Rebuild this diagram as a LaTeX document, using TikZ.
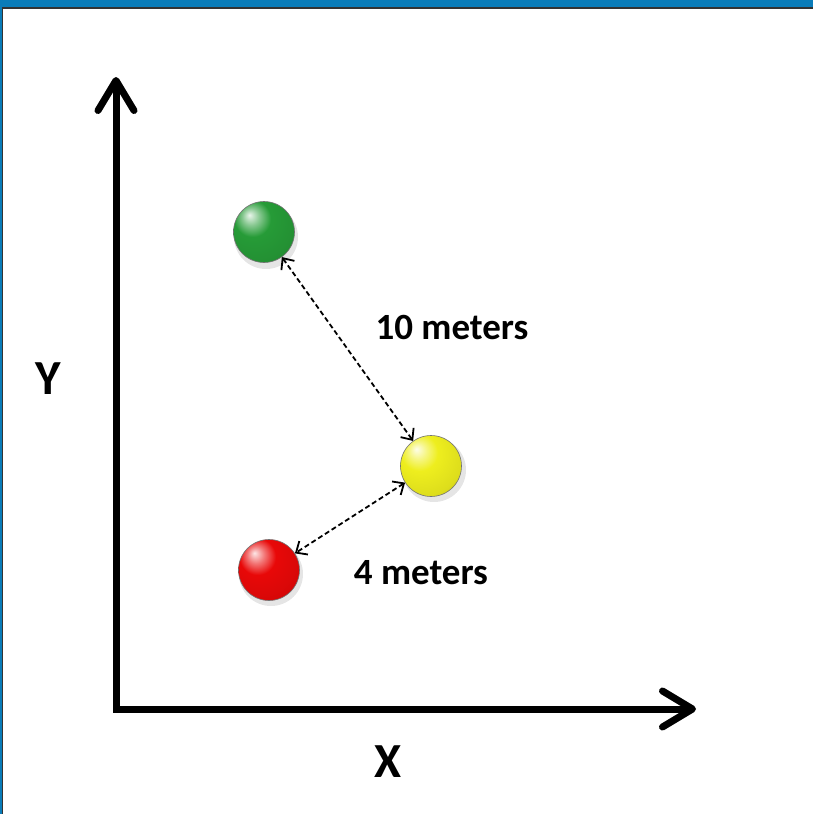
\documentclass[tikz,border=0pt]{standalone}
\usepackage{fontspec}
\setmainfont{Carlito}
\usetikzlibrary{arrows.meta}
\definecolor{bandblue}{RGB}{10,124,185}
\definecolor{ballgreen}{RGB}{38,155,55}
\definecolor{ballyellow}{RGB}{238,238,30}
\definecolor{ballred}{RGB}{232,8,8}
\makeatletter
\pgfdeclareradialshading[tikz@ball]{softball}{\pgfqpoint{-12bp}{14bp}}{%
  color(0bp)=(tikz@ball!10!white);
  color(7bp)=(tikz@ball!55!white);
  color(15bp)=(tikz@ball);
  color(32bp)=(tikz@ball!93!black);
  color(44bp)=(tikz@ball!75!black);
  color(56bp)=(tikz@ball!45!black);
  color(70bp)=(tikz@ball!35!black)}
\makeatother
\tikzset{
  ballnode/.style={circle, shade, ball color=#1, shading=softball, minimum size=61pt, inner sep=0pt, draw=black!55, line width=0.6pt},
  axisline/.style={line width=7pt, line join=miter, {Straight Barb[length=30pt,width=36pt,line cap=round,line join=round]}-{Straight Barb[length=30pt,width=36pt,line cap=round,line join=round]}},
  distarrow/.style={line width=1.8pt, dash pattern=on 5pt off 3pt, {Straight Barb[length=9pt,width=16pt]}-{Straight Barb[length=9pt,width=16pt]}},
  lbl/.style={font=\bfseries\fontsize{37}{42}\selectfont, inner sep=0pt},
  axlbl/.style={font=\bfseries\fontsize{49}{54}\selectfont, inner sep=0pt}
}
\begin{document}
\begin{tikzpicture}[x=1pt,y=-1pt]
\useasboundingbox (0,0) rectangle (813,814);
\fill[white] (0,0) rectangle (813,814);
% frame
\fill[bandblue] (0,0) rectangle (813,7);
\draw[black!80, line width=1.6pt] (0,8) -- (813,8);
\fill[bandblue] (0,0) rectangle (1.6,814);
\draw[black!80, line width=1pt] (2.3,8) -- (2.3,814);
% axes
\coordinate (ytip) at (116,77);
\coordinate (orig) at (116,709);
\coordinate (xtip) at (696,709);
\draw[axisline] (ytip) -- (orig) -- (xtip);
\node[axlbl] (ylab) at (48,379) {Y};
\node[axlbl] (xlab) at (388,762) {X};
% shadows
\fill[black, opacity=0.10] (266,237) circle (32);
\fill[black, opacity=0.10] (434,470) circle (32);
\fill[black, opacity=0.10] (271,574) circle (32);
% balls
\node[ballnode=ballgreen] (green) at (264,232) {};
\node[ballnode=ballyellow] (yellow) at (431,466) {};
\node[ballnode=ballred] (red) at (269,570) {};
% distances
\draw[distarrow] (green) -- (yellow);
\draw[distarrow] (yellow) -- (red);
\node[lbl] (d10) at (452,327) {10 meters};
\node[lbl] (d4) at (421,573) {4 meters};
\end{tikzpicture}
\end{document}
